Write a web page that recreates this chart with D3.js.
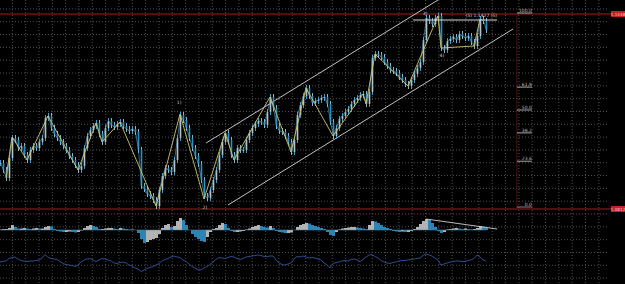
<!DOCTYPE html>
<html><head><meta charset="utf-8">
<script src="https://cdn.jsdelivr.net/npm/d3@7"></script>
<style>html,body{margin:0;padding:0;background:#000;}svg{display:block;}</style>
</head><body>
<script>
// ---- DATA ----
// close values (points above range low), one bar every step
const closes = [44,37,29,49,69,67,59,61,52,47,57,61,59,65,69,89,91,79,73,69,65,61,57,51,47,42,37,41,59,71,77,81,84,73,65,79,86,82,80,83,85,81,78,76,78,75,57,21,18,13,11,7,1,17,31,39,37,35,47,69,92,87,79,69,59,51,43,27,11,9,17,27,37,52,65,74,67,52,47,59,57,57,67,74,79,83,86,85,82,95,110,99,81,76,75,71,65,55,67,92,102,111,119,111,104,106,107,109,110,103,85,71,79,88,91,95,98,103,107,109,112,113,103,115,149,153,152,150,145,141,137,136,134,130,127,123,121,127,133,139,145,167,189,186,183,189,191,159,157,166,168,170,167,173,171,169,171,165,161,171,188,186,177];
// zigzag pivots (bar index, value)
const zzIdx = [2,4,9,16,26,32,34,40,52,60,68,75,78,90,97,102,111,121,122,125,136,146,147,158,160];
const zzVal = [29,70,47,91,37,84,65,85,1,93,8,74,47,110,55,119,71,113,103,153,121,191,159,161,188];
// channel lines [idx0,val0,idx1,val1]
const channelUpper = [68.7,64,146,207];
const channelLower = [76,2,171,178];
// expansion line
const expLine = [137.7,187,165.7,187];
const expLabel = "(5) 1.1427 (5)";
// fibonacci retracement
const fibIdx = 172.3;
const fibLow = 0, fibHigh = 194;
const fibLevels = [0,23.6,38.2,50,61.8,100];
const fibLabels = ["0.0","23.6","38.2","50.0","61.8","100.0"];
// horizontal red levels
const redLevels = [193,-2];
const redTags = ["1.1448","1.0812"];
// wave labels
const waveIdx = [59.7,68.3,141.7,147.3];
const waveVal = [103,-2,192,150];
const waveText = ["1)","2)","3)","4)"];
// histogram oscillator
const hist = [0.5,1,1,2,5,3,1.5,1.5,2,1.5,1,1.5,2,1.5,1.5,3,4,3.5,1,-1,-1.5,-2,-2,-1.5,-2,-2.5,-2,-0.5,2,4,5,4,3,1,1,1.5,2,2,1.5,1,2,1.5,1,0.5,0.5,0,-3,-9,-13,-12,-10,-9,-8,-4,2,5,6,3,4,9,12,10,5,0,-4,-7,-9,-11,-12,-7,-2,1,2,5,7,6,2,-1,-2,-2,-1.5,-1,0.5,1.5,3,4,5,4,3,2.5,4,2,-1,-2,-2.5,-3,-3,-2.5,0,3,5,6,7,6.5,5,4,3,2,1,-2,-5,-6,-2,0.5,1.5,2,2.5,3,3,2.5,2,1.5,1,5,9,8.5,7,5,3,2,1,-1,-1.5,-2,-1.5,-2,-2,-1,1,3,6,9,11,10,7,3,-1,-3,-2,0.5,1,1.5,2,1.5,1,1.5,1,0.5,1,2,4,3.5,2];
const histTrend = [142,11,165.7,1];
// line oscillator
const osc = [0,0.5,1,3.5,4.5,5,3,1.5,1,0.5,1,1,1.5,2,4,7.5,4.5,3.5,3,2.5,0.5,-1.5,-2.5,-3,-3.5,-4.5,-3,0,2,3,3.5,2,0.5,2,3.5,3,2,1,-1,-1.5,-0.5,0,-1,-3,-4,-6,-7,-9.5,-8,-6.5,-5.5,-4.5,-3,-1.5,1,2.5,3.5,5,6,5,4.5,2,0.5,-2,-4.5,-6,-7.5,-8,-6,-4.5,-2.5,0,2.5,4.5,4,3.5,4.5,5.5,5,3.5,2.5,3.5,5,5.5,6,6.5,7,6.5,5.5,5.5,6,6,2,-1,-2.5,-3,-2,-1,3,5.5,5,6,5,4,4.5,4,3,2,-1,-3,-6,-1.5,-0.5,0,1,1.5,1,2.5,3,2,0.5,2.5,5,7,7.5,5.5,4,1.5,0,-1,-1.5,-0.5,0,1,1.5,1.5,2,2.5,3,3.5,4,6.5,8,7,6,4,2,-3,-2,-1,0,0.5,1,1,0.5,0.5,1.5,2,3.5,7,5,2,1];

// ---- RENDER ----
const W = 625, H = 284;
const svg = d3.select("body").append("svg").attr("width", W).attr("height", H)
  .style("background", "#000");

const x = d3.scaleLinear().domain([0, 162]).range([0, 486]);
const y = d3.scaleLinear().domain([fibLow, fibHigh]).range([207, 13]);
const yh = d3.scaleLinear().domain([-14, 14]).range([244, 216]);
const yo = d3.scaleLinear().domain([-13, 13]).range([275, 249]);

// grid
const grid = svg.append("g").attr("stroke", "#626262").attr("stroke-width", 0.8)
  .attr("stroke-dasharray", "1,2");
const vx = d3.range(1, 46).map(k => -1 + 13.33 * k);
grid.selectAll("line.v").data(vx).join("line").attr("class", "v")
  .attr("x1", d => d).attr("x2", d => d).attr("y1", 0).attr("y2", H);
const hy = d3.range(0, 22).map(k => 8.9 + 12.82 * k);
grid.selectAll("line.h").data(hy).join("line").attr("class", "h")
  .attr("x1", 0).attr("x2", 608).attr("y1", d => d).attr("y2", d => d);

// red horizontal levels
svg.selectAll("line.red").data(redLevels).join("line").attr("class", "red")
  .attr("x1", 0).attr("x2", 611).attr("y1", d => y(d)).attr("y2", d => y(d))
  .attr("stroke", "#a81c1c").attr("stroke-width", 1);
const tags = svg.selectAll("g.tag").data(redLevels).join("g").attr("class", "tag")
  .attr("transform", d => `translate(611,${y(d)})`);
tags.append("rect").attr("x", 0).attr("y", -3).attr("width", 14).attr("height", 6).attr("fill", "#c4201e");
tags.append("text").attr("x", 7).attr("y", 1.8).attr("text-anchor", "middle")
  .attr("font-family", "DejaVu Sans").attr("font-size", 4.2).attr("fill", "#f0c8c8")
  .text((d, i) => redTags[i]);

// fib vertical line
svg.append("line").attr("x1", x(fibIdx)).attr("x2", x(fibIdx))
  .attr("y1", y(fibHigh)).attr("y2", y(-2)).attr("stroke", "#4e1212").attr("stroke-width", 1);
const fibG = svg.selectAll("g.fib").data(fibLevels).join("g").attr("class", "fib");
fibG.append("line").attr("x1", x(fibIdx)).attr("x2", x(fibIdx + 5))
  .attr("y1", d => y(fibLow + d / 100 * (fibHigh - fibLow)))
  .attr("y2", d => y(fibLow + d / 100 * (fibHigh - fibLow)))
  .attr("stroke", d => d === 0 ? "#a07c7c" : "#a8a8a8").attr("stroke-width", 1);
fibG.append("text").attr("x", x(fibIdx + 5)).attr("y", d => y(fibLow + d / 100 * (fibHigh - fibLow)) - 1)
  .attr("text-anchor", "end").attr("font-family", "DejaVu Sans").attr("font-size", 4.5)
  .attr("fill", "#bdbdbd").text((d, i) => fibLabels[i]);

// channel lines
[channelUpper, channelLower].forEach(c => {
  svg.append("line").attr("x1", x(c[0])).attr("y1", y(c[1])).attr("x2", x(c[2])).attr("y2", y(c[3]))
    .attr("stroke", "#d6d6d6").attr("stroke-width", 0.9);
});

// price bars
const bars = svg.append("g");
closes.forEach((c, i) => {
  const prev = i === 0 ? c : closes[i - 1];
  const up = c >= prev;
  const lo = Math.min(prev, c), hi = Math.max(prev, c);
  const col = up ? "#b7c2c8" : "#2a8fc2";
  bars.append("line").attr("x1", x(i) + 0.5).attr("x2", x(i) + 0.5)
    .attr("y1", y(lo - 3)).attr("y2", y(hi + 3)).attr("stroke", up ? "#3f9fcc" : "#8fb4c6").attr("stroke-width", 1);
  bars.append("rect").attr("x", x(i) - 0.3).attr("width", 1.6)
    .attr("y", y(hi)).attr("height", Math.max(1, y(lo) - y(hi))).attr("fill", col);
});
svg.append("path").datum(closes)
  .attr("d", d3.line().x((d, i) => x(i) + 0.5).y(d => y(d)))
  .attr("fill", "none").attr("stroke", "#5cb6dc").attr("stroke-width", 0.7).attr("opacity", 0.8);

// zigzag
svg.append("path").datum(zzIdx.map((d, i) => [d, zzVal[i]]))
  .attr("d", d3.line().x(d => x(d[0])).y(d => y(d[1])))
  .attr("fill", "none").attr("stroke", "#cfc56a").attr("stroke-width", 0.9);

// expansion line + label
svg.append("line").attr("x1", x(expLine[0])).attr("y1", y(expLine[1])).attr("x2", x(expLine[2])).attr("y2", y(expLine[3]))
  .attr("stroke", "#d8d8d8").attr("stroke-width", 1);
svg.append("text").attr("x", x(expLine[2])).attr("y", y(expLine[1]) - 3).attr("text-anchor", "end")
  .attr("font-family", "DejaVu Sans").attr("font-size", 4.5).attr("fill", "#cfcfcf").text(expLabel);

// wave labels
svg.selectAll("text.wave").data(waveText).join("text").attr("class", "wave")
  .attr("x", (d, i) => x(waveIdx[i])).attr("y", (d, i) => y(waveVal[i])).attr("text-anchor", "middle")
  .attr("font-family", "DejaVu Sans").attr("font-size", 4.5).attr("fill", "#cfcfcf").text(d => d);

// histogram
const hg = svg.append("g");
hist.forEach((h, i) => {
  const prev = i === 0 ? h : hist[i - 1];
  const col = h >= prev ? "#b3b3b3" : "#2a84b6";
  hg.append("rect").attr("x", x(i) - 1).attr("width", 3)
    .attr("y", Math.min(yh(0), yh(h))).attr("height", Math.abs(yh(h) - yh(0)))
    .attr("fill", col);
});
svg.append("line").attr("x1", 0).attr("x2", x(162)).attr("y1", yh(0)).attr("y2", yh(0))
  .attr("stroke", "#4a7fa0").attr("stroke-width", 0.6);
svg.append("line").attr("x1", x(histTrend[0])).attr("y1", yh(histTrend[1]))
  .attr("x2", x(histTrend[2])).attr("y2", yh(histTrend[3]))
  .attr("stroke", "#cfcfcf").attr("stroke-width", 0.9);

// line oscillator
svg.append("path").datum(osc)
  .attr("d", d3.line().x((d, i) => x(i)).y(d => yo(d)))
  .attr("fill", "none").attr("stroke", "#2f559c").attr("stroke-width", 0.9);
</script>
</body></html>
